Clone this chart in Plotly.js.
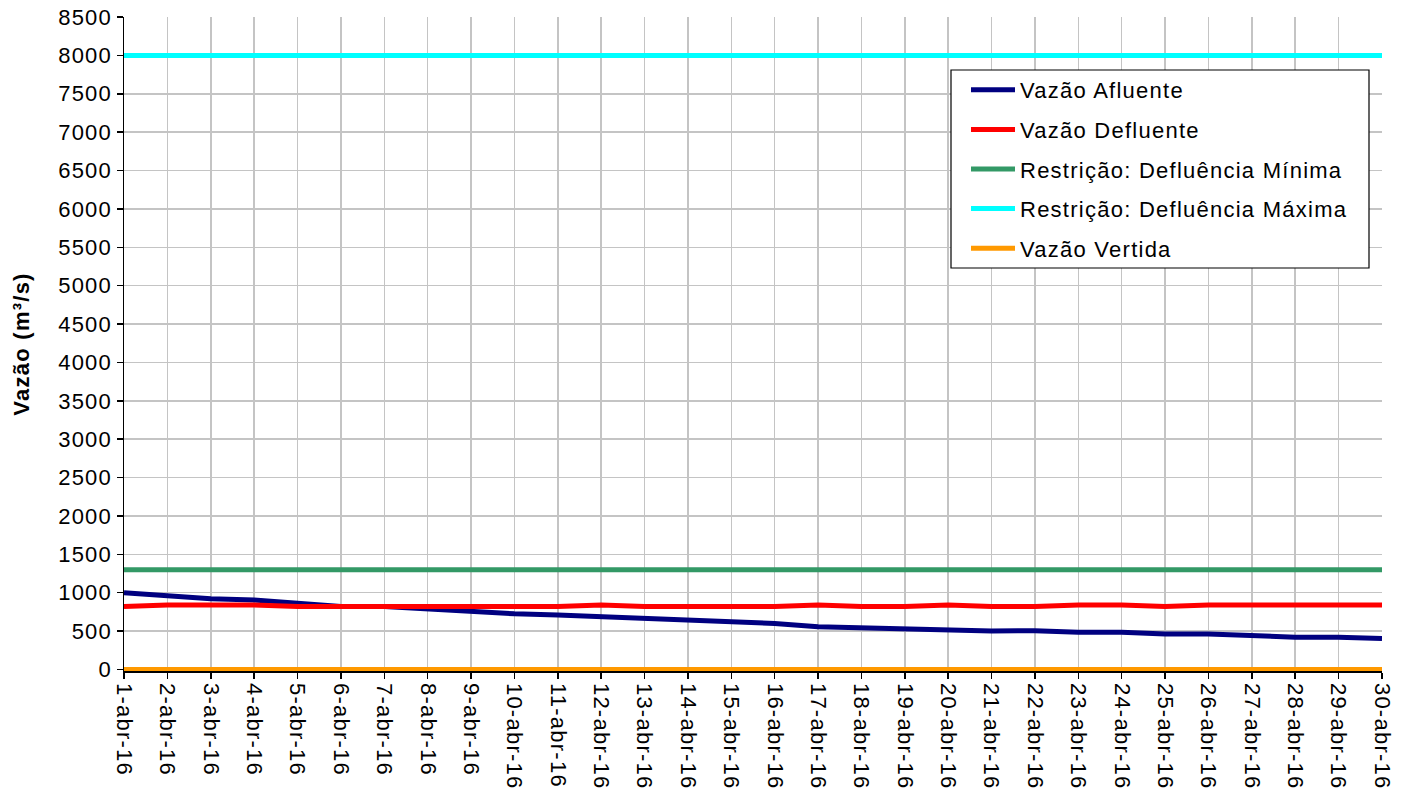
<!DOCTYPE html>
<html>
<head>
<meta charset="utf-8">
<script src="https://cdn.plot.ly/plotly-3.0.1.min.js"></script>
<style>
html,body{margin:0;padding:0;background:#fff;}
#chart{width:1412px;height:789px;}
text{letter-spacing:1.25px;}
</style>
</head>
<body>
<div id="chart"></div>
<script>
const dias = ["1-abr-16","2-abr-16","3-abr-16","4-abr-16","5-abr-16","6-abr-16","7-abr-16","8-abr-16","9-abr-16","10-abr-16",
"11-abr-16","12-abr-16","13-abr-16","14-abr-16","15-abr-16","16-abr-16","17-abr-16","18-abr-16","19-abr-16","20-abr-16",
"21-abr-16","22-abr-16","23-abr-16","24-abr-16","25-abr-16","26-abr-16","27-abr-16","28-abr-16","29-abr-16","30-abr-16"];
const vazaoAfluente = [1000,960,920,905,865,820,820,790,745,725,
710,685,660,640,618,600,555,540,525,508,
500,505,485,485,462,462,440,420,420,403];
const vazaoDefluente = [820,840,840,840,820,820,820,820,820,820,
820,840,820,820,820,820,840,820,820,840,
820,820,840,840,820,840,840,840,840,840];
const defluenciaMinima = [1300,1300,1300,1300,1300,1300,1300,1300,1300,1300,
1300,1300,1300,1300,1300,1300,1300,1300,1300,1300,
1300,1300,1300,1300,1300,1300,1300,1300,1300,1300];
const defluenciaMaxima = [8000,8000,8000,8000,8000,8000,8000,8000,8000,8000,
8000,8000,8000,8000,8000,8000,8000,8000,8000,8000,
8000,8000,8000,8000,8000,8000,8000,8000,8000,8000];
const vazaoVertida = [0,0,0,0,0,0,0,0,0,0,
0,0,0,0,0,0,0,0,0,0,
0,0,0,0,0,0,0,0,0,0];

const series = [
  {name:"Vazão Afluente", y:vazaoAfluente, color:"#000080"},
  {name:"Vazão Defluente", y:vazaoDefluente, color:"#ff0000"},
  {name:"Restrição: Defluência Mínima", y:defluenciaMinima, color:"#339966"},
  {name:"Restrição: Defluência Máxima", y:defluenciaMaxima, color:"#00ffff"},
  {name:"Vazão Vertida", y:vazaoVertida, color:"#ff9900"}
];
const traces = series.map((s,i)=>({
  type:"scatter", mode:"lines", x:dias, y:s.y, name:s.name,
  legendgroup:"g"+i, cliponaxis:false,
  line:{color:s.color, width:5}
}));

const fam = "Liberation Sans, Arial, sans-serif";
const plotL = 124, plotR = 1382, plotT = 17, plotB = 671;
const px2x = v => (v - plotL) / (plotR - plotL);
const px2y = v => (plotB - v) / (plotB - plotT);

const layout = {
  width:1412, height:789,
  margin:{l:plotL, r:1412-plotR, t:plotT, b:789-plotB},
  paper_bgcolor:"#fff", plot_bgcolor:"#fff",
  font:{family:fam, size:22, color:"#000"},
  showlegend:true,
  legend:{
    x:px2x(966), y:px2y(69), xanchor:"left", yanchor:"top",
    bgcolor:"rgba(0,0,0,0)", borderwidth:0,
    font:{family:fam, size:22, color:"#000"},
    tracegroupgap:8, itemwidth:44
  },
  shapes:[{
    type:"rect", xref:"paper", yref:"paper",
    x0:px2x(951), x1:px2x(1369), y0:px2y(268), y1:px2y(70),
    fillcolor:"#fff", line:{color:"#000", width:1.2}, layer:"above"
  }],
  xaxis:{
    type:"category", range:[0,29],
    tickangle:90, tickfont:{family:fam, size:22, color:"#000"},
    showgrid:true, gridcolor:"#c4c4c4", gridwidth:1.5,
    showline:true, linecolor:"#000", linewidth:1.5,
    ticks:"outside", ticklen:6, tickcolor:"#000", tickwidth:1.5,
    layer:"below traces", zeroline:false
  },
  yaxis:{
    range:[-20,8500], tickvals:[0,500,1000,1500,2000,2500,3000,3500,4000,4500,5000,5500,6000,6500,7000,7500,8000,8500],
    tickfont:{family:fam, size:22, color:"#000"},
    showgrid:true, gridcolor:"#c4c4c4", gridwidth:1.5,
    showline:true, linecolor:"#000", linewidth:1.5,
    ticks:"outside", ticklen:6, tickcolor:"#000", tickwidth:1.5,
    layer:"below traces", zeroline:false,
    title:{text:"<b>Vazão (m³/s)</b>", font:{family:fam, size:22, color:"#000"}, standoff:22}
  }
};
Plotly.newPlot("chart", traces, layout, {staticPlot:true, displayModeBar:false});
</script>
</body>
</html>
